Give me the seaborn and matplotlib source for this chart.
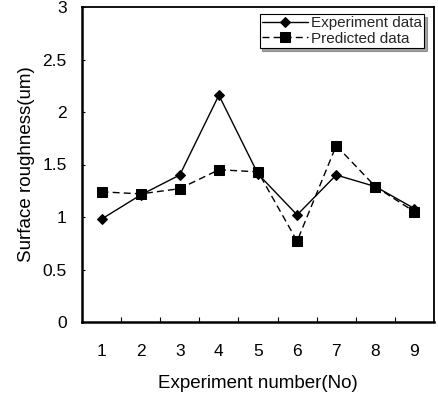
import matplotlib
matplotlib.use("Agg")
import matplotlib.pyplot as plt
import seaborn as sns
import pandas as pd
import numpy as np
from matplotlib.ticker import FixedLocator

experiment_no = [1, 2, 3, 4, 5, 6, 7, 8, 9]
experiment_data = [0.98, 1.21, 1.40, 2.16, 1.41, 1.02, 1.40, 1.29, 1.08]
predicted_data = [1.24, 1.22, 1.27, 1.45, 1.43, 0.77, 1.68, 1.29, 1.05]
y_ticks = [0, 0.5, 1, 1.5, 2, 2.5, 3]
y_tick_labels = ["0", "0.5", "1", "1.5", "2", "2.5", "3"]

sns.set_theme(style="white")
plt.rcParams['font.family'] = ['Liberation Sans', 'DejaVu Sans']

fig = plt.figure(figsize=(4.38, 3.93), dpi=100)
ax = fig.add_axes([82/438, 1-322/393, 352/438, 315/393])

df_e = pd.DataFrame({"x": experiment_no, "y": experiment_data})
df_p = pd.DataFrame({"x": experiment_no, "y": predicted_data})

sns.lineplot(data=df_e, x="x", y="y", ax=ax, color="black", linewidth=1.0,
             marker="D", markersize=5, markeredgecolor="black",
             markerfacecolor="black", label="Experiment data")
sns.lineplot(data=df_p, x="x", y="y", ax=ax, color="black", linewidth=1.0,
             marker="s", markersize=6.5, markeredgecolor="black",
             markerfacecolor="black", label="Predicted data")
ax.lines[1].set_dashes([5, 3])

ax.set_xlim(0.5, 9.5)
ax.set_ylim(0, 3)
ax.set_xticks(experiment_no)
ax.set_xticklabels([str(v) for v in experiment_no])
ax.xaxis.set_minor_locator(FixedLocator(np.arange(1.5, 9.5, 1.0)))
ax.set_yticks(y_ticks)
ax.set_yticklabels(y_tick_labels)

ax.tick_params(axis="x", which="major", length=0, pad=16, labelsize=12.5, colors="black")
ax.tick_params(axis="x", which="minor", direction="in", length=3.5, width=0.8,
               bottom=True, color="black")
ax.tick_params(axis="y", which="major", direction="in", length=2.5, width=0.8,
               left=True, pad=11, labelsize=12.5, colors="black")

ax.set_xlabel("Experiment number(No)", fontsize=13.5, color="black", labelpad=11)
ax.set_ylabel("Surface roughness(um)", fontsize=13.5, color="black", labelpad=5)

for side in ["left", "bottom"]:
    ax.spines[side].set_linewidth(1.8)
for side in ["top", "right"]:
    ax.spines[side].set_linewidth(1.3)
for s in ax.spines.values():
    s.set_color("black")
    s.set_visible(True)

leg = ax.legend(loc="upper right", bbox_to_anchor=(0.972, 0.978), fontsize=11,
                frameon=True, fancybox=False, shadow=True, borderpad=0.15,
                labelspacing=0.1, handlelength=3.0, handletextpad=0.2,
                borderaxespad=0)
leg.get_frame().set_edgecolor("black")
leg.get_frame().set_linewidth(0.8)

fig.savefig("out.png", dpi=100)
